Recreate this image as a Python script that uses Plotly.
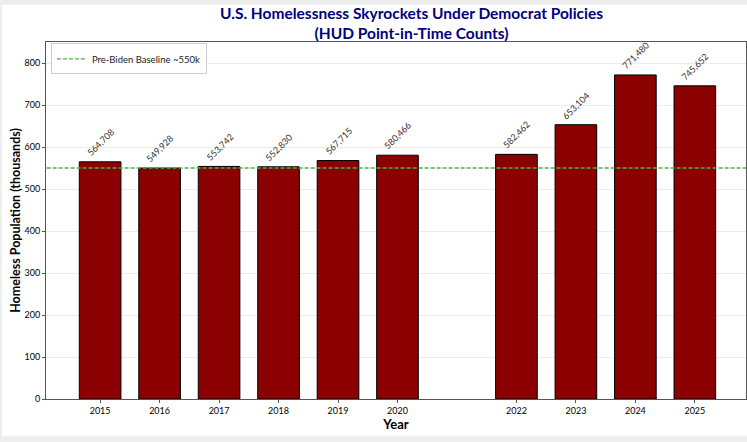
import plotly.graph_objects as go

years = [2015, 2016, 2017, 2018, 2019, 2020, 2022, 2023, 2024, 2025]
counts = [564708, 549928, 553742, 552830, 567715, 580466, 582462, 653104, 771480, 745652]
baseline = 550
yticks = [0, 100, 200, 300, 400, 500, 600, 700, 800]

thousands = [c / 1000 for c in counts]
FONT = "Lato"

fig = go.Figure()
fig.add_trace(go.Bar(
    x=years, y=thousands, width=0.7,
    marker=dict(color="#8b0000", line=dict(color="black", width=1)),
    showlegend=False, hoverinfo="skip",
))
fig.add_trace(go.Scatter(
    x=[2014.0, 2026.0], y=[baseline, baseline], mode="lines",
    line=dict(color="#4caf4c", width=1.3, dash="4px,2px"),
    name="Pre-Biden Baseline ~550k", hoverinfo="skip",
))

annotations = []
for yr, v, c in zip(years, thousands, counts):
    annotations.append(dict(
        x=yr, y=v, xref="x", yref="y", text=f"{c:,}", showarrow=False,
        textangle=-45, yanchor="bottom", xanchor="center", yshift=1,
        font=dict(family=FONT, size=9, color="#333333"),
    ))
annotations.append(dict(
    x=0.522, y=1.0, xref="paper", yref="paper", yshift=19, yanchor="middle",
    text="<b>U.S. Homelessness Skyrockets Under Democrat Policies<br>(HUD Point-in-Time Counts)</b>",
    showarrow=False, font=dict(family=FONT, size=15.5, color="#000080"),
))

fig.update_layout(
    width=747, height=442,
    margin=dict(l=46, r=1, t=42, b=43),
    paper_bgcolor="#eeeeee", plot_bgcolor="white",
    font=dict(family=FONT, size=10, color="black"),
    annotations=annotations,
    shapes=[dict(type="rect", xref="paper", yref="paper", x0=-0.063, x1=1.01,
                 y0=-0.104, y1=1.104, fillcolor="white", line=dict(width=0), layer="below")],
    legend=dict(x=0.007, y=0.996, xanchor="left", yanchor="top", itemwidth=30,
                bgcolor="white", bordercolor="#cccccc", borderwidth=1,
                font=dict(family=FONT, size=9.5, color="#222222")),
    xaxis=dict(range=[2014.09, 2025.86], tickmode="array", tickvals=years,
               ticks="outside", ticklen=3, tickcolor="#555555",
               tickfont=dict(size=9), showgrid=False,
               showline=True, linecolor="#555555", mirror=True, zeroline=False,
               title=dict(text="<b>Year</b>", font=dict(size=13), standoff=4)),
    yaxis=dict(range=[0, 850], tickmode="array", tickvals=yticks,
               ticks="outside", ticklen=3, tickcolor="#555555",
               tickfont=dict(size=9), showgrid=True, gridcolor="#ebebeb",
               showline=True, linecolor="#555555", mirror=True, zeroline=False,
               title=dict(text="<b>Homeless Population (thousands)</b>", font=dict(size=12.5), standoff=1)),
)

fig.write_html("out.html", config={"displayModeBar": False},
               post_script="document.body.style.margin='0';document.body.style.overflow='hidden';")
